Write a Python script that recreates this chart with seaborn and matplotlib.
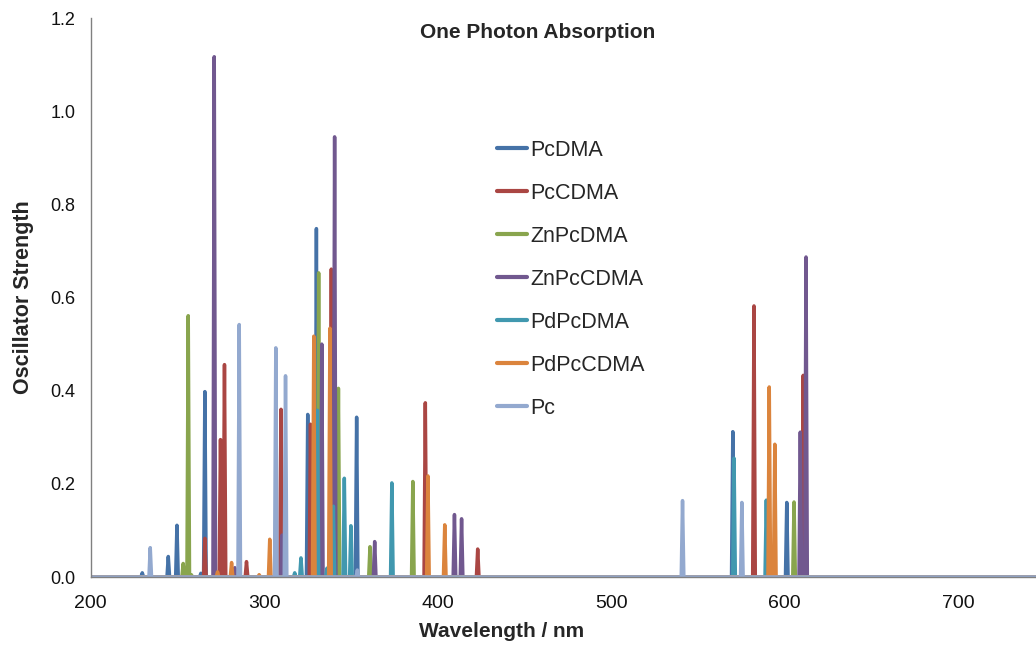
import numpy as np
import pandas as pd
import matplotlib
matplotlib.use("Agg")
import matplotlib.pyplot as plt
import seaborn as sns

# Computed one-photon absorption stick spectra: wavelength (nm) and oscillator strength
series_names = ["PcDMA", "PcCDMA", "ZnPcDMA", "ZnPcCDMA", "PdPcDMA", "PdPcCDMA", "Pc"]

pcdma_wl = [229.7, 244.7, 249.7, 263.5, 265.8, 325.1, 330.1, 353.3, 570.2, 601.3]
pcdma_f = [0.009, 0.044, 0.111, 0.008, 0.398, 0.349, 0.748, 0.343, 0.312, 0.160]

pccdma_wl = [265.8, 274.8, 277.1, 289.8, 309.7, 326.7, 338.7, 392.9, 423.1, 582.4, 610.8]
pccdma_f = [0.083, 0.295, 0.456, 0.033, 0.360, 0.328, 0.661, 0.374, 0.060, 0.582, 0.433]

znpcdma_wl = [253.3, 256.2, 258.0, 331.4, 342.8, 361.0, 385.7, 605.5]
znpcdma_f = [0.029, 0.561, 0.005, 0.653, 0.405, 0.065, 0.205, 0.161]

znpccdma_wl = [271.2, 283.1, 310.3, 333.2, 340.6, 363.7, 409.7, 413.8, 609.1, 612.4]
znpccdma_f = [1.117, 0.020, 0.090, 0.500, 0.945, 0.076, 0.134, 0.125, 0.311, 0.687]

pdpcdma_wl = [317.6, 321.2, 330.7, 336.2, 339.9, 346.2, 350.0, 373.6, 570.9, 589.5]
pdpcdma_f = [0.009, 0.041, 0.358, 0.019, 0.152, 0.212, 0.110, 0.202, 0.255, 0.165]

pdpccdma_wl = [273.1, 281.2, 297.1, 303.2, 328.6, 337.9, 394.4, 404.1, 591.2, 594.4]
pdpccdma_f = [0.011, 0.031, 0.005, 0.081, 0.517, 0.534, 0.217, 0.112, 0.408, 0.285]

pc_wl = [234.3, 285.6, 306.7, 312.3, 353.7, 541.2, 575.4]
pc_f = [0.063, 0.542, 0.492, 0.432, 0.015, 0.164, 0.160]

series_peaks = {
    "PcDMA": (pcdma_wl, pcdma_f),
    "PcCDMA": (pccdma_wl, pccdma_f),
    "ZnPcDMA": (znpcdma_wl, znpcdma_f),
    "ZnPcCDMA": (znpccdma_wl, znpccdma_f),
    "PdPcDMA": (pdpcdma_wl, pdpcdma_f),
    "PdPcCDMA": (pdpccdma_wl, pdpccdma_f),
    "Pc": (pc_wl, pc_f),
}

colors = ["#4572A7", "#AA4643", "#89A54E", "#71588F", "#4198AF", "#DB843D", "#93A9CF"]

x_min, x_max = 200, 745
half_width = 0.75  # nm, half base width of each drawn line

# Long-form table: each transition becomes a narrow spike on a zero baseline
rows = []
for name in series_names:
    wl, f = series_peaks[name]
    pts = [(x_min, 0.0), (x_max, 0.0)]
    for w, v in zip(wl, f):
        pts += [(w - half_width, 0.0), (w, v), (w + half_width, 0.0)]
    pts.sort(key=lambda p: p[0])
    for x, y in pts:
        rows.append({"Wavelength": x, "Strength": y, "Series": name})
df = pd.DataFrame(rows)

sns.set_style("white")
plt.rcParams["font.family"] = ["Liberation Sans", "DejaVu Sans"]

fig = plt.figure(figsize=(10.36, 6.46), dpi=100)
ax = fig.add_axes([0.0876, 0.1068, 0.9124, 0.8652])

sns.lineplot(data=df, x="Wavelength", y="Strength", hue="Series",
             hue_order=series_names, palette=colors, estimator=None,
             sort=False, linewidth=2.5, ax=ax)

ax.set_xlim(x_min, x_max)
ax.set_ylim(0, 1.2)
ax.set_xticks([200, 300, 400, 500, 600, 700])
ax.set_yticks(np.arange(0, 1.21, 0.2))
ax.set_yticklabels([f"{v:.1f}" for v in np.arange(0, 1.21, 0.2)])

for side in ["top", "right"]:
    ax.spines[side].set_visible(False)
for side in ["left", "bottom"]:
    ax.spines[side].set_color("#808080")
    ax.spines[side].set_linewidth(1.0)
ax.tick_params(axis="both", direction="out", length=5, width=1.0,
               color="#808080", labelcolor="#111111")
ax.tick_params(axis="x", pad=8, labelsize=14)
ax.tick_params(axis="y", pad=6, labelsize=13)

ax.set_xlabel("Wavelength / nm", fontsize=15, fontweight="bold")
ax.xaxis.set_label_coords(0.4346, -0.080)
ax.set_ylabel("Oscillator Strength", fontsize=15.5, fontweight="bold", labelpad=12)

fig.text(538 / 1036, 1 - 32 / 646, "One Photon Absorption", ha="center",
         va="center", fontsize=15, fontweight="bold")

leg = ax.legend(loc="upper left", bbox_to_anchor=(497 / 1036, 1 - 140 / 646),
                bbox_transform=fig.transFigure, frameon=False, fontsize=15.5,
                borderpad=0, borderaxespad=0, handlelength=1.4,
                handletextpad=0.14, labelspacing=1.02, title=None)
for line in leg.get_lines():
    line.set_linewidth(3)

fig.savefig("out.png", dpi=100)
